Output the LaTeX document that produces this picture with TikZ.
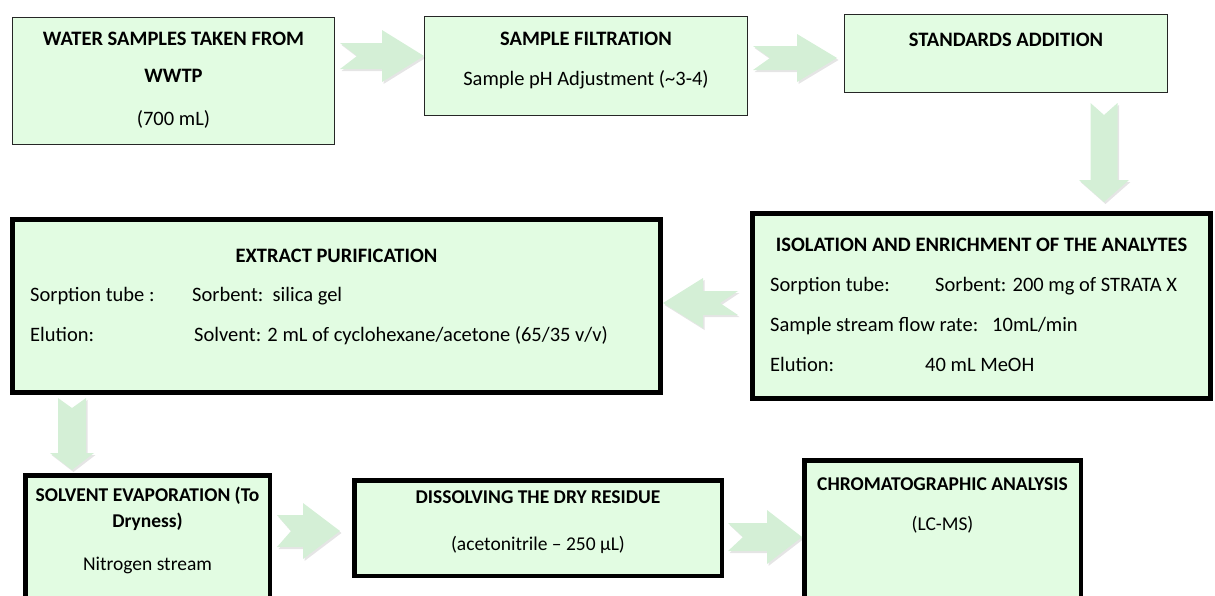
\documentclass[tikz,border=0pt]{standalone}
\usepackage{fontspec}
\setmainfont{Carlito}
\usepackage{tikz}
\usetikzlibrary{calc, shadows}
\definecolor{boxgreen}{RGB}{226,252,226}
\definecolor{arrowgreen}{RGB}{212,239,214}
\tikzstyle{thinbox} = [draw=black!85, line width=1pt, fill=boxgreen, anchor=north west, inner sep=0pt]
\tikzstyle{thickbox} = [draw=black, line width=5pt, fill=boxgreen, anchor=north west, inner sep=0pt]
\tikzstyle{boxtext} = [align=center, inner sep=0pt, font=\fontsize{20.5}{25}\selectfont]
\tikzstyle{lowtext} = [align=center, inner sep=0pt, font=\fontsize{19.5}{24}\selectfont]
\tikzstyle{rowtext} = [anchor=base west, inner sep=0pt, font=\fontsize{20.5}{25}\selectfont]
\tikzstyle{flowarrow} = [fill=arrowgreen, drop shadow={shadow xshift=1.5pt, shadow yshift=-2pt, fill=black, opacity=0.1}]
% block arrows: tail, tip, half body, half head, head offset, notch
\newcommand{\harrow}[6]{%
  \fill[flowarrow] ($(#1)+(0,-#3)$) -- ($(#2)+(#5,-#3)$) -- ($(#2)+(#5,-#4)$) -- (#2)
    -- ($(#2)+(#5,#4)$) -- ($(#2)+(#5,#3)$) -- ($(#1)+(0,#3)$) -- ($(#1)+(#6,0)$) -- cycle;}
\newcommand{\varrow}[6]{%
  \fill[flowarrow] ($(#1)+(-#3,0)$) -- ($(#2)+(-#3,#5)$) -- ($(#2)+(-#4,#5)$) -- (#2)
    -- ($(#2)+(#4,#5)$) -- ($(#2)+(#3,#5)$) -- ($(#1)+(#3,0)$) -- ($(#1)+(0,#6)$) -- cycle;}

\begin{document}
\begin{tikzpicture}[x=1pt, y=-1pt]
        \clip (0,0) rectangle (1215,595);
        % Top row
        \node[thinbox, minimum width=322pt, minimum height=127pt] (water) at (12,17) {};
        \node[thinbox, minimum width=323pt, minimum height=99pt] (filt) at (424,16) {};
        \node[thinbox, minimum width=323pt, minimum height=78pt] (std) at (844,14) {};
        \node[boxtext] (waterT) at (water.north) [below=15pt] {\textbf{WATER SAMPLES TAKEN FROM}\\[12pt]\textbf{WWTP}\\[18pt](700 mL)};
        \node[boxtext] (filtT) at (filt.north) [below=16pt] {\textbf{SAMPLE FILTRATION}\\[15pt]Sample pH Adjustment (\textasciitilde3-4)};
        \node[boxtext] (stdT) at (std.north) [below=19pt] {\textbf{STANDARDS ADDITION}};

        % Middle row
        \node[thickbox, minimum width=648pt, minimum height=173pt] (extr) at (10,217) {};
        \node[thickbox, minimum width=458pt, minimum height=185pt] (iso) at (750,211) {};
        \node[boxtext] (extrT) at (extr.north) [below=32pt] {\textbf{EXTRACT PURIFICATION}};
        \node[rowtext] (extrR1) at (30,301) {\makebox[162pt][l]{Sorption tube :}Sorbent:\ \ silica gel};
        \node[rowtext] (extrR2) at (30,341) {\makebox[164pt][l]{Elution:}Solvent: 2 mL of cyclohexane/acetone (65/35 v/v)};
        \node[boxtext] (isoT) at (iso.north) [below=27pt] {\textbf{ISOLATION AND ENRICHMENT OF THE ANALYTES}};
        \node[rowtext] (isoR1) at (770,291) {\makebox[165pt][l]{Sorption tube:}Sorbent: 200 mg of STRATA X};
        \node[rowtext] (isoR2) at (770,331) {\makebox[222pt][l]{Sample stream flow rate:}10mL/min};
        \node[rowtext] (isoR3) at (770,371) {\makebox[155pt][l]{Elution:}40 mL MeOH};

        % Bottom row
        \node[thickbox, line width=4.5pt, minimum width=244.5pt, minimum height=140pt] (solv) at (23,473) {};
        \node[thickbox, line width=4.5pt, minimum width=367.5pt, minimum height=95.5pt] (diss) at (352,478) {};
        \node[thickbox, line width=4.5pt, minimum width=276.5pt, minimum height=160pt] (chrom) at (802,458) {};
        \node[lowtext] (solvT) at (solv.north) [below=14pt] {\textbf{SOLVENT EVAPORATION (To}\\[2pt]\textbf{Dryness)}\\[19pt]Nitrogen stream};
        \node[lowtext] (dissT) at (diss.north) [below=13pt] {\textbf{DISSOLVING THE DRY RESIDUE}\\[23pt](acetonitrile – 250 μL)};
        \node[lowtext] (chromT) at (chrom.north) [below=20pt] {\textbf{CHROMATOGRAPHIC ANALYSIS}\\[16pt](LC-MS)};

        % Arrows
        \coordinate (a1) at (340,56);
        \coordinate (a2) at (753,58);
        \coordinate (a3) at (1104,103);
        \coordinate (a4) at (738,303);
        \coordinate (a5) at (72,398);
        \coordinate (a6) at (277,531);
        \coordinate (a7) at (728,537);
        \harrow{a1}{a1 -| filt.west}{13}{26}{-42}{17}
        \harrow{a2}{$(a2 -| std.west)+(-7,0)$}{12}{24}{-40}{17}
        \varrow{a3}{$(a3 |- iso.north)+(0,-9)$}{13.5}{25}{-22}{12}
        \harrow{a4}{a4 -| extr.east}{12}{25}{40}{-18}
        \varrow{a5}{$(a5 |- solv.north)+(0,-3)$}{14}{22}{-17}{10}
        \harrow{a6}{$(a6 -| diss.west)+(-12,0)$}{16}{28}{-37}{14}
        \harrow{a7}{a7 -| chrom.west}{14}{27}{-35}{15}
\end{tikzpicture}
\end{document}
